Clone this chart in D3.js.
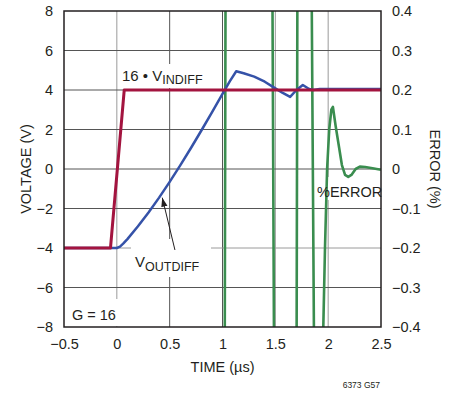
<!DOCTYPE html>
<html>
<head>
<meta charset="utf-8">
<script src="https://cdn.jsdelivr.net/npm/d3@7"></script>
<style>
  body { margin: 0; background: #fff; }
  text { font-family: "Liberation Sans", Arial, sans-serif; fill: #231f20; }
</style>
</head>
<body>
<svg id="chart" width="459" height="395"></svg>
<script>
// tick labels
var timeTicks = [-0.5, 0, 0.5, 1, 1.5, 2, 2.5];
var voltTicks = [-8, -6, -4, -2, 0, 2, 4, 6, 8];
var errTicks = [-0.4, -0.3, -0.2, -0.1, 0, 0.1, 0.2, 0.3, 0.4];

// 16 * VINDIFF (V)
var inTime = [-0.5, -0.06, 0.07, 2.5];
var inVolt = [-4, -4, 4, 4];

// VOUTDIFF (V)
var outTime = [-0.5, 0, 0.03, 0.06, 0.1, 0.2, 0.3, 0.4, 0.5, 0.6, 0.7, 0.8, 0.9, 1.0, 1.07, 1.13,
  1.2, 1.3, 1.4, 1.5, 1.57, 1.64, 1.7, 1.76, 1.82, 1.86, 1.92, 2.5];
var outVolt = [-4, -4, -3.93, -3.78, -3.55, -2.9, -2.2, -1.45, -0.65, 0.18, 1.05, 1.95, 2.87, 3.8, 4.45, 4.95,
  4.85, 4.68, 4.42, 4.08, 3.85, 3.65, 4.0, 4.25, 4.05, 4.0, 4.05, 4.05];

// % error (right axis)
var errTime = [-0.5, 1.02, 1.03, 1.47, 1.49, 1.70, 1.71, 1.84, 1.87, 1.95, 1.97, 1.99, 2.01, 2.03,
  2.045, 2.07, 2.1, 2.13, 2.16, 2.19, 2.22, 2.26, 2.3, 2.35, 2.42, 2.5];
var errPct = [-0.6, -0.6, 0.6, 0.6, -0.6, -0.6, 0.6, 0.6, -0.6, -0.45, -0.2, 0.0, 0.1, 0.15,
  0.157, 0.11, 0.06, 0.01, -0.015, -0.02, -0.015, 0.0, 0.006, 0.005, 0.002, -0.002];

var svg = d3.select('#chart');
var plotLeft = 64, plotTop = 11, plotRight = 381, plotBottom = 327;

var x = d3.scaleLinear().domain([-0.5, 2.5]).range([plotLeft, plotRight]);
var y = d3.scaleLinear().domain([-8, 8]).range([plotBottom, plotTop]);
var yErr = d3.scaleLinear().domain([-0.4, 0.4]).range([plotBottom, plotTop]);

var fmt = (d) => d < 0 ? '\u2212' + Math.abs(d) : String(d);

svg.append('rect').attr('width', 459).attr('height', 395).attr('fill', '#fff');

// grid
var lightTimes = [0, 1.5, 2];
svg.append('g').selectAll('line')
  .data(timeTicks.slice(1, -1))
  .enter().append('line')
  .attr('x1', (d) => x(d)).attr('x2', (d) => x(d))
  .attr('y1', plotTop).attr('y2', plotBottom)
  .attr('stroke', (d) => lightTimes.includes(d) ? '#9a9a9a' : '#555')
  .attr('stroke-width', 1);

svg.append('g').selectAll('line')
  .data(voltTicks.slice(1, -1))
  .enter().append('line')
  .attr('x1', plotLeft).attr('x2', plotRight)
  .attr('y1', (d) => y(d)).attr('y2', (d) => y(d))
  .attr('stroke', (d) => d === -4 ? '#9a9a9a' : '#555')
  .attr('stroke-width', 1);

// gaps in the grid behind the labels
var masks = [
  [120, 64, 85, 24],
  [131, 239, 80, 38],
  [66, 299, 60, 27],
  [315, 177, 65, 23]
];
svg.append('g').selectAll('rect')
  .data(masks)
  .enter().append('rect')
  .attr('x', (m) => m[0]).attr('y', (m) => m[1])
  .attr('width', (m) => m[2]).attr('height', (m) => m[3])
  .attr('fill', '#fff');

// curves
svg.append('clipPath').attr('id', 'plot')
  .append('rect').attr('x', plotLeft).attr('y', plotTop)
  .attr('width', plotRight - plotLeft).attr('height', plotBottom - plotTop);

var plot = svg.append('g').attr('clip-path', 'url(#plot)');

var voltLine = d3.line().x((d) => x(d[0])).y((d) => y(d[1]));
var errLine = d3.line().x((d) => x(d[0])).y((d) => yErr(d[1]));

plot.append('path')
  .datum(errTime.map((t, i) => [t, errPct[i]]))
  .attr('d', errLine)
  .attr('fill', 'none').attr('stroke', '#3a8d4f').attr('stroke-width', 2.6)
  .attr('stroke-linejoin', 'round');

plot.append('path')
  .datum(outTime.map((t, i) => [t, outVolt[i]]))
  .attr('d', voltLine)
  .attr('fill', 'none').attr('stroke', '#3552a8').attr('stroke-width', 2.5)
  .attr('stroke-linejoin', 'round');

plot.append('path')
  .datum(inTime.map((t, i) => [t, inVolt[i]]))
  .attr('d', voltLine)
  .attr('fill', 'none').attr('stroke', '#a3143f').attr('stroke-width', 3)
  .attr('stroke-linejoin', 'round');

// frame
svg.append('rect')
  .attr('x', plotLeft).attr('y', plotTop)
  .attr('width', plotRight - plotLeft).attr('height', plotBottom - plotTop)
  .attr('fill', 'none').attr('stroke', '#231f20').attr('stroke-width', 1.5);

// axes
function styleAxis(g) {
  g.select('.domain').remove();
  g.attr('font-family', null).attr('font-size', null);
  g.selectAll('text').style('font-size', '14.5px').attr('fill', '#231f20');
}

svg.append('g')
  .attr('transform', `translate(${plotLeft}, 0)`)
  .call(d3.axisLeft(y).tickValues(voltTicks).tickSize(0).tickPadding(11).tickFormat(fmt))
  .call(styleAxis);

svg.append('g')
  .attr('transform', `translate(${plotRight}, 0)`)
  .call(d3.axisRight(yErr).tickValues(errTicks).tickSize(0).tickPadding(11).tickFormat(fmt))
  .call(styleAxis);

svg.append('g')
  .attr('transform', `translate(0, ${plotBottom})`)
  .call(d3.axisBottom(x).tickValues(timeTicks).tickSize(0).tickPadding(12).tickFormat(fmt))
  .call(styleAxis);

// axis titles
svg.append('text')
  .attr('transform', `translate(31, ${(plotTop + plotBottom) / 2}) rotate(-90)`)
  .attr('text-anchor', 'middle')
  .style('font-size', '14.5px')
  .text('VOLTAGE (V)');

svg.append('text')
  .attr('transform', `translate(430, ${(plotTop + plotBottom) / 2}) rotate(90)`)
  .attr('text-anchor', 'middle')
  .style('font-size', '14.5px')
  .text('ERROR (%)');

svg.append('text')
  .attr('x', x(1)).attr('y', 372)
  .attr('text-anchor', 'middle')
  .style('font-size', '14.5px')
  .text('TIME (\u00b5s)');

svg.append('text')
  .attr('x', 380).attr('y', 388)
  .attr('text-anchor', 'end')
  .style('font-size', '8.5px')
  .text('6373 G57');

// annotations
var inLabel = svg.append('text')
  .attr('x', 122).attr('y', 81)
  .style('font-size', '15px')
  .text('16 \u2022 V');
inLabel.append('tspan').attr('dy', 3).style('font-size', '12.5px').text('INDIFF');

var outLabel = svg.append('text')
  .attr('x', 135).attr('y', 267)
  .style('font-size', '15px')
  .text('V');
outLabel.append('tspan').attr('dy', 4).style('font-size', '12.5px').text('OUTDIFF');

svg.append('text')
  .attr('x', 317).attr('y', 197)
  .style('font-size', '14.5px')
  .text('%ERROR');

svg.append('text')
  .attr('x', 72).attr('y', 320)
  .style('font-size', '14.5px')
  .text('G = 16');

svg.append('defs').append('marker')
  .attr('id', 'head')
  .attr('viewBox', '0 0 10 10')
  .attr('refX', 10).attr('refY', 5)
  .attr('markerWidth', 9).attr('markerHeight', 9)
  .attr('markerUnits', 'userSpaceOnUse')
  .attr('orient', 'auto')
  .append('path').attr('d', 'M0,1.5 L10,5 L0,8.5 Z').attr('fill', '#231f20');

svg.append('line')
  .attr('x1', x(0.55)).attr('y1', y(-4.1))
  .attr('x2', x(0.43)).attr('y2', y(-1.45))
  .attr('stroke', '#231f20').attr('stroke-width', 1)
  .attr('marker-end', 'url(#head)');
</script>
</body>
</html>
